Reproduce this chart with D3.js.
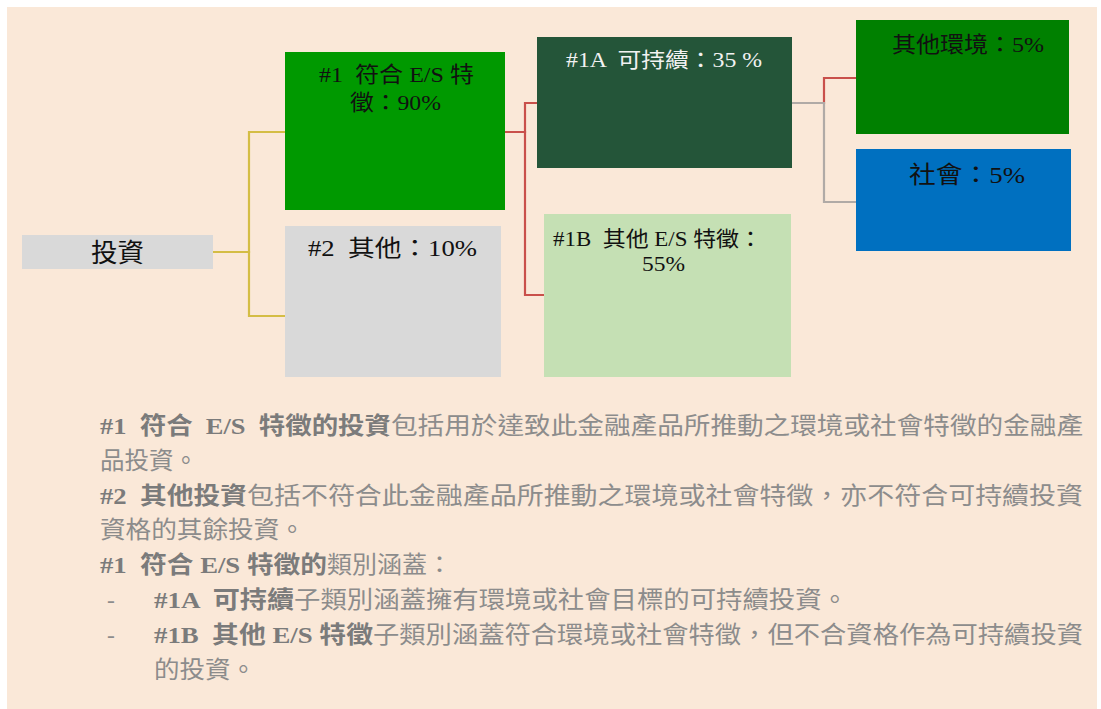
<!DOCTYPE html>
<html>
<head>
<meta charset="utf-8">
<script src="https://cdn.jsdelivr.net/npm/d3@7"></script>
<style>
  html, body { margin: 0; padding: 0; background: #ffffff; }
  svg text { white-space: pre; }
</style>
</head>
<body>
<svg id="chart" width="1101" height="709"></svg>
<script>
// ---------- data ----------
const nodeIds     = ["inv", "n1", "n2", "n1A", "n1B", "env", "soc"];
const nodeShares  = [100, 90, 10, 35, 55, 5, 5];
const nodeLabels  = [
  ["投資"],
  ["#1  符合 E/S 特", "徵：90%"],
  ["#2  其他：10%"],
  ["#1A  可持續：35 %"],
  ["#1B  其他 E/S 特徵：", "55%"],
  ["其他環境：5%"],
  ["社會：5%"]
];
const linkSources = ["inv", "inv", "n1", "n1", "n1A", "n1A"];
const linkTargets = ["n1", "n2", "n1A", "n1B", "env", "soc"];

// explanatory note: each line is a list of [text, bold]
const noteLines = [
  [["#1  符合  E/S  特徵的投資", true], ["包括用於達致此金融產品所推動之環境或社會特徵的金融產", false]],
  [["品投資。", false]],
  [["#2  其他投資", true], ["包括不符合此金融產品所推動之環境或社會特徵，亦不符合可持續投資", false]],
  [["資格的其餘投資。", false]],
  [["#1  符合 E/S 特徵的", true], ["類別涵蓋：", false]],
  [["-", false], ["#1A  可持續", true], ["子類別涵蓋擁有環境或社會目標的可持續投資。", false]],
  [["-", false], ["#1B  其他 E/S 特徵", true], ["子類別涵蓋符合環境或社會特徵，但不合資格作為可持續投資", false]],
  [["的投資。", false]]
];

// ---------- layout & style (not data) ----------
const boxLayout = {
  inv: {x0: 22,  x1: 213,  y0: 235, y1: 269, fill: "#D9D9D9", color: "#111", fs: 26, lines: [[91, 144, 262]], anchorY: 252},
  n1:  {x0: 285, x1: 505,  y0: 52,  y1: 210, fill: "#009900", color: "#111", fs: 22, lines: [[319, 474, 81.5], [350, 441, 110]], anchorY: 132},
  n2:  {x0: 285, x1: 501,  y0: 226, y1: 377, fill: "#D9D9D9", color: "#111", fs: 23, lines: [[308, 477, 256]], anchorY: 316},
  n1A: {x0: 537, x1: 792,  y0: 37,  y1: 168, fill: "#245539", color: "#F2F2F2", fs: 21, lines: [[566, 762, 67]], anchorY: 103},
  n1B: {x0: 544, x1: 791,  y0: 214, y1: 377, fill: "#C5E0B4", color: "#111", fs: 21, lines: [[553, 762, 246], [642, 685, 271]], anchorY: 295},
  env: {x0: 856, x1: 1069, y0: 20,  y1: 134, fill: "#008000", color: "#111", fs: 22, lines: [[892, 1044, 51.5]], anchorY: 78},
  soc: {x0: 856, x1: 1071, y0: 149, y1: 251, fill: "#0070C0", color: "#111", fs: 24, lines: [[909, 1025, 183]], anchorY: 202}
};
const elbowX = {inv: 249, n1: 525, n1A: 824};
const linkColors = ["#D4BD45", "#D4BD45", "#C9504B", "#C9504B", "#C9504B", "#B0AAA6"];
const noteSegments = [
  [[100, 391], [391, 1083]],
  [[100, 198]],
  [[100, 247], [247, 1083]],
  [[100, 305]],
  [[100, 327], [327, 452]],
  [[107, 113], [154, 294], [294, 848]],
  [[107, 113], [154, 373], [373, 1083]],
  [[154, 256]]
];
const FONT = "'Liberation Serif', 'Times New Roman', 'Noto Sans CJK TC', serif";

// ---------- drawing ----------
const svg = d3.select("#chart");

// background panel
const bgX = d3.scaleLinear().domain([0, 1]).range([7, 1097]);
const bgY = d3.scaleLinear().domain([0, 1]).range([7, 709]);
svg.append("rect")
  .attr("x", bgX(0)).attr("y", bgY(0))
  .attr("width", bgX(1) - bgX(0)).attr("height", bgY(1) - bgY(0))
  .attr("fill", "#FAE8D8");

const nodes = nodeIds.map((id, i) => ({id, share: nodeShares[i], label: nodeLabels[i], ...boxLayout[id]}));
const byId = new Map(nodes.map(d => [d.id, d]));
const links = linkSources.map((s, i) => ({source: byId.get(s), target: byId.get(linkTargets[i]), color: linkColors[i]}));

// connectors (elbow lines)
const line = d3.line().x(d => d[0]).y(d => d[1]).curve(d3.curveLinear);
svg.append("g").selectAll("path")
  .data(links)
  .join("path")
  .attr("fill", "none")
  .attr("stroke", d => d.color)
  .attr("stroke-width", 2.2)
  .attr("d", d => {
    const sx = d.source.x1, sy = d.source.anchorY;
    const ex = elbowX[d.source.id];
    const tx = d.target.x0, ty = d.target.anchorY;
    return line([[sx, sy], [ex, sy], [ex, ty], [tx, ty]]);
  });

// boxes
const boxG = svg.append("g").selectAll("g")
  .data(nodes)
  .join("g");

boxG.append("rect")
  .attr("x", d => d.x0).attr("y", d => d.y0)
  .attr("width", d => d.x1 - d.x0).attr("height", d => d.y1 - d.y0)
  .attr("fill", d => d.fill);

boxG.each(function(d) {
  const g = d3.select(this);
  d.label.forEach((txt, i) => {
    const [lx0, lx1, by] = d.lines[i];
    g.append("text")
      .attr("x", lx0).attr("y", by)
      .attr("textLength", lx1 - lx0)
      .attr("lengthAdjust", "spacingAndGlyphs")
      .attr("font-family", FONT)
      .attr("font-size", d.fs)
      .attr("fill", d.color)
      .text(txt);
  });
});

// explanatory note
const lineY = d3.scaleLinear().domain([0, noteLines.length - 1]).range([434, 677.6]);
const noteG = svg.append("g");
noteLines.forEach((segs, li) => {
  segs.forEach(([txt, bold], si) => {
    const [sx0, sx1] = noteSegments[li][si];
    const t = noteG.append("text")
      .attr("x", sx0).attr("y", lineY(li))
      .attr("font-family", FONT)
      .attr("font-size", 23.5)
      .attr("font-weight", bold ? "bold" : "normal")
      .attr("fill", bold ? "#7B7B7B" : "#8C8C8C")
      .text(txt);
    if (txt !== "-") {
      t.attr("textLength", sx1 - sx0).attr("lengthAdjust", "spacingAndGlyphs");
    }
  });
});
</script>
</body>
</html>
